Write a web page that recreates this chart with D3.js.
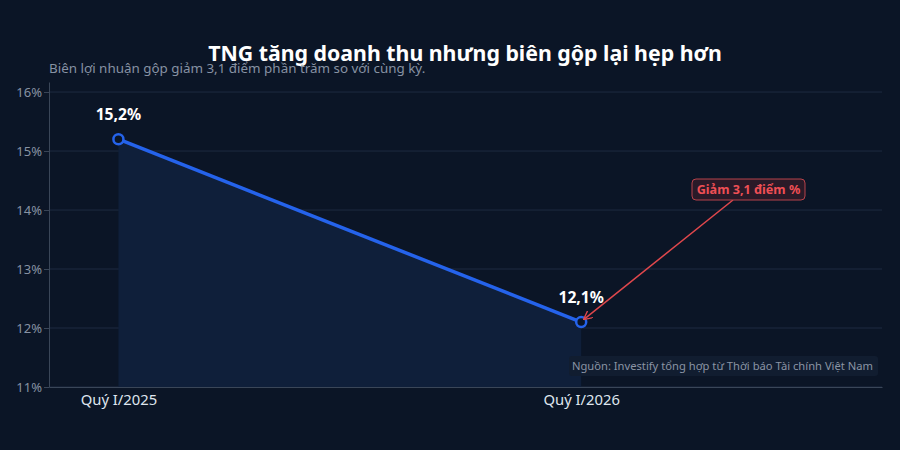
<!DOCTYPE html>
<html>
<head>
<meta charset="utf-8">
<script src="https://cdn.jsdelivr.net/npm/d3@7"></script>
<style>
  body { margin: 0; background: #0b1526; }
  svg { display: block; font-family: "Noto Sans", "Open Sans", sans-serif; }
</style>
</head>
<body>
<div id="graphic-area"></div>
<script>
// du lieu bien loi nhuan gop
const quarters = ["Quý I/2025", "Quý I/2026"];
const margins = [15.2, 12.1];
const valueLabels = ["15,2%", "12,1%"];
const yTicks = [11, 12, 13, 14, 15, 16];

const w = 900;
const h = 450;
const padLeft = 49, padRight = 882, padTop = 82, padBottom = 387;

const svg = d3.select("#graphic-area")
              .append("svg")
              .attr("width", w)
              .attr("height", h);

svg.append("rect").attr("width", w).attr("height", h).attr("fill", "#0b1526");

const xScale = d3.scaleLinear()
                 .domain([-0.15, 1.65])
                 .range([padLeft, padRight]);

const yScale = d3.scaleLinear()
                 .domain([11, 16.17])
                 .range([padBottom, padTop]);

// gridlines
svg.append("g")
   .selectAll("line")
   .data(yTicks)
   .enter()
   .append("line")
   .attr("x1", padLeft)
   .attr("x2", padRight)
   .attr("y1", d => yScale(d))
   .attr("y2", d => yScale(d))
   .attr("stroke", "#1e2b40")
   .attr("stroke-width", 1);

// area under line
const area = d3.area()
               .x((d, i) => xScale(i))
               .y0(yScale(11))
               .y1(d => yScale(d));

svg.append("path")
   .datum(margins)
   .attr("d", area)
   .attr("fill", "#0f1f3a");

// y axis
const yAxis = d3.axisLeft(yScale)
                .tickValues(yTicks)
                .tickSize(5)
                .tickSizeOuter(0)
                .tickFormat(d => d + "%");

const gy = svg.append("g")
   .attr("transform", "translate(" + padLeft + ", 0)")
   .call(yAxis);
gy.select(".domain").attr("stroke", "#3a4658");
gy.selectAll(".tick line").attr("stroke", "#3a4658");
gy.selectAll(".tick text")
  .attr("fill", "#8792a3")
  .attr("font-family", "Noto Sans")
  .attr("font-size", 13)
  .attr("x", -7);

// x axis
const xAxis = d3.axisBottom(xScale)
                .tickValues([0, 1])
                .tickSize(0)
                .tickSizeOuter(0)
                .tickFormat(d => quarters[d]);

const gx = svg.append("g")
   .attr("transform", "translate(0, " + padBottom + ")")
   .call(xAxis);
gx.select(".domain").attr("stroke", "#3a4658");
gx.selectAll(".tick text")
  .attr("fill", "#dfe5ee")
  .attr("font-family", "Noto Sans")
  .attr("font-size", 14.8)
  .attr("dy", "1em");

// line
const line = d3.line()
               .x((d, i) => xScale(i))
               .y(d => yScale(d));

svg.append("path")
   .datum(margins)
   .attr("d", line)
   .attr("fill", "none")
   .attr("stroke", "#2563eb")
   .attr("stroke-width", 3.5);

svg.selectAll("circle.pt")
   .data(margins)
   .enter()
   .append("circle")
   .attr("class", "pt")
   .attr("cx", (d, i) => xScale(i))
   .attr("cy", d => yScale(d))
   .attr("r", 5)
   .attr("fill", "#0b1526")
   .attr("stroke", "#2563eb")
   .attr("stroke-width", 2.5);

svg.selectAll("text.val")
   .data(margins)
   .enter()
   .append("text")
   .attr("class", "val")
   .attr("x", (d, i) => xScale(i))
   .attr("y", d => yScale(d) - 19)
   .attr("text-anchor", "middle")
   .attr("fill", "#ffffff")
   .attr("font-size", 15.7)
   .attr("font-weight", "bold")
   .text((d, i) => valueLabels[i]);

// annotation
svg.append("defs").append("marker")
   .attr("id", "arrow")
   .attr("viewBox", "0 0 10 10")
   .attr("refX", 9)
   .attr("refY", 5)
   .attr("markerWidth", 6)
   .attr("markerHeight", 6)
   .attr("orient", "auto")
   .append("path")
   .attr("d", "M0,0 L10,5 L0,10")
   .attr("fill", "none")
   .attr("stroke", "#e0474c")
   .attr("stroke-width", 1.5);

svg.append("line")
   .attr("x1", 733)
   .attr("y1", 200)
   .attr("x2", xScale(1) + 3)
   .attr("y2", yScale(margins[1]) - 3)
   .attr("stroke", "#e0474c")
   .attr("stroke-width", 1.5)
   .attr("marker-end", "url(#arrow)");

svg.append("rect")
   .attr("x", 692)
   .attr("y", 179)
   .attr("width", 113)
   .attr("height", 21)
   .attr("rx", 4)
   .attr("fill", "#2a1a28")
   .attr("stroke", "#b7424a")
   .attr("stroke-width", 1);

svg.append("text")
   .attr("x", 748.5)
   .attr("y", 194)
   .attr("text-anchor", "middle")
   .attr("fill", "#ef4f55")
   .attr("font-size", 12.6)
   .attr("font-weight", "bold")
   .text("Giảm 3,1 điểm %");

// source
svg.append("rect")
   .attr("x", 569)
   .attr("y", 356)
   .attr("width", 309)
   .attr("height", 20)
   .attr("rx", 3)
   .attr("fill", "#111d30");

svg.append("text")
   .attr("x", 873)
   .attr("y", 370)
   .attr("text-anchor", "end")
   .attr("fill", "#8a94a4")
   .attr("font-size", 11.2)
   .text("Nguồn: Investify tổng hợp từ Thời báo Tài chính Việt Nam");

// title
svg.append("text")
   .attr("x", 465)
   .attr("y", 61)
   .attr("text-anchor", "middle")
   .attr("fill", "#ffffff")
   .attr("font-size", 21.3)
   .attr("font-weight", "bold")
   .text("TNG tăng doanh thu nhưng biên gộp lại hẹp hơn");

svg.append("text")
   .attr("x", 49)
   .attr("y", 73)
   .attr("fill", "#8792a3")
   .attr("font-size", 13.4)
   .text("Biên lợi nhuận gộp giảm 3,1 điểm phần trăm so với cùng kỳ.");
</script>
</body>
</html>
